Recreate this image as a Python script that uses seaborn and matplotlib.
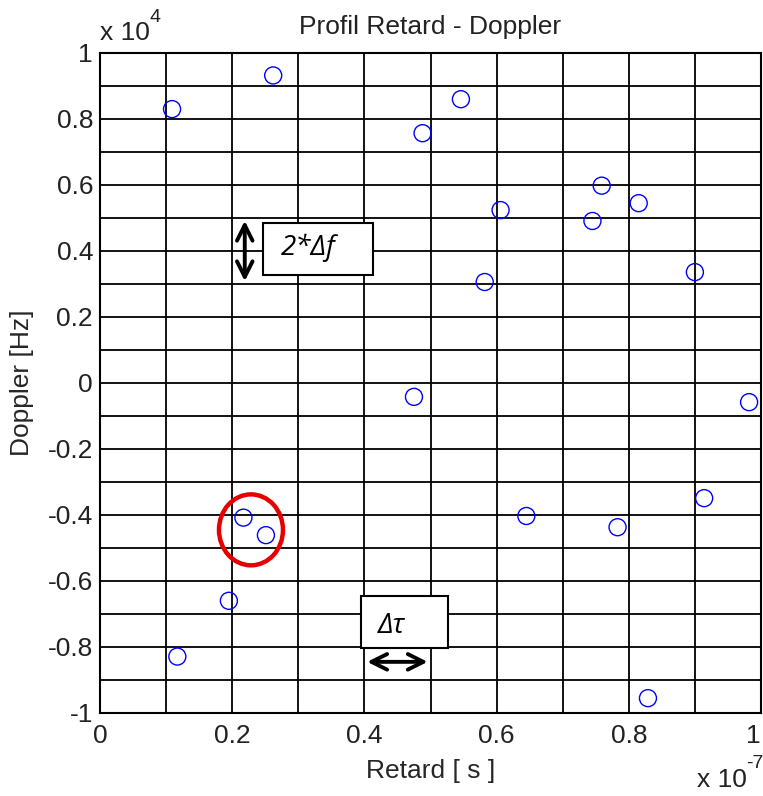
import numpy as np
import matplotlib
matplotlib.use("Agg")
import matplotlib.pyplot as plt
import seaborn as sns
from matplotlib.patches import Ellipse, Rectangle
from matplotlib.ticker import MultipleLocator

# targets: delay in units of 1e-7 s, doppler in units of 1e4 Hz
retard_e7 = [0.109, 0.262, 0.546, 0.488, 0.759, 0.815, 0.606, 0.745, 0.900, 0.582,
             0.475, 0.982, 0.914, 0.645, 0.783, 0.829, 0.217, 0.251, 0.195, 0.117]
doppler_e4 = [0.830, 0.932, 0.860, 0.757, 0.598, 0.545, 0.524, 0.491, 0.336, 0.306,
              -0.042, -0.058, -0.349, -0.403, -0.437, -0.955, -0.408, -0.461, -0.660, -0.829]

xtick_labels = ["0", "0.2", "0.4", "0.6", "0.8", "1"]
ytick_labels = ["-1", "-0.8", "-0.6", "-0.4", "-0.2", "0", "0.2", "0.4", "0.6", "0.8", "1"]

retard = np.array(retard_e7) * 1e-7
doppler = np.array(doppler_e4) * 1e4

sns.set_style("white")
plt.rcParams['font.family'] = ['Liberation Sans', 'DejaVu Sans']
plt.rcParams['axes.unicode_minus'] = False
plt.rcParams['text.color'] = '#222222'

fs = 19

fig = plt.figure(figsize=(7.63, 7.96), dpi=100)
ax = fig.add_axes([100 / 763, 83 / 796, 661 / 763, 660 / 796])

sns.scatterplot(x=retard, y=doppler, ax=ax, marker='o', s=150,
                facecolor='none', edgecolor='blue', linewidth=1.0, zorder=5)

ax.set_xlim(0, 1e-7)
ax.set_ylim(-1e4, 1e4)
ax.set_xticks(np.linspace(0, 1e-7, len(xtick_labels)), xtick_labels)
ax.set_yticks(np.linspace(-1e4, 1e4, len(ytick_labels)), ytick_labels)
ax.xaxis.set_minor_locator(MultipleLocator(0.1e-7))
ax.yaxis.set_minor_locator(MultipleLocator(0.1e4))
ax.grid(True, which='both', color='black', linewidth=1.3)
ax.set_axisbelow(True)
ax.tick_params(which='both', length=0, labelsize=fs, labelcolor='#222222')
ax.tick_params(axis='x', pad=8)
ax.tick_params(axis='y', pad=5)
for s in ax.spines.values():
    s.set_color('black')
    s.set_linewidth(1.5)

# keep the last x label inside the figure
ax.get_xticklabels()[-1].set_horizontalalignment('right')

ax.set_title("Profil Retard - Doppler", fontsize=fs, pad=14)
ax.set_xlabel("Retard [ s ]", fontsize=fs, labelpad=8)
ax.set_ylabel("Doppler [Hz]", fontsize=fs, labelpad=10)

# exponent labels, drawn as plain text like the original
fig.text(100 / 763, 1 - 33 / 796, "x 10", fontsize=fs, va='center', ha='left')
fig.text(150 / 763, 1 - 18 / 796, "4", fontsize=14, va='center', ha='left')
fig.text(697 / 763, 1 - 780 / 796, "x 10", fontsize=fs, va='center', ha='left')
fig.text(746 / 763, 1 - 764 / 796, "-7", fontsize=14, va='center', ha='left')

# red ellipse around the two close targets
ax.add_patch(Ellipse((0.2284e-7, -0.445e4), 0.0968e-7, 0.215e4,
                     fill=False, edgecolor='#e60000', linewidth=3.2, zorder=6))

annot_font = ['Open Sans', 'DejaVu Sans']

# 2*delta f resolution marker
ax.annotate("", xy=(0.219e-7, 0.5e4), xytext=(0.219e-7, 0.3e4),
            arrowprops=dict(arrowstyle='<->', lw=2.8, color='black', mutation_scale=28),
            zorder=7)
ax.add_patch(Rectangle((0.2466e-7, 0.327e4), 0.1664e-7, 0.158e4,
                       facecolor='white', edgecolor='black', linewidth=1.5, zorder=7))
ax.text(0.315e-7, 0.41e4, "2*Δf", fontsize=20, style='italic', family=annot_font,
        color='black', ha='center', va='center', zorder=8)

# delta tau resolution marker
ax.add_patch(Rectangle((0.395e-7, -0.803e4), 0.1315e-7, 0.158e4,
                       facecolor='white', edgecolor='black', linewidth=1.5, zorder=7))
ax.text(0.42e-7, -0.735e4, "Δτ", fontsize=20, style='italic', family=annot_font,
        color='black', ha='left', va='center', zorder=8)
ax.annotate("", xy=(0.4e-7, -0.845e4), xytext=(0.5e-7, -0.845e4),
            arrowprops=dict(arrowstyle='<->', lw=2.8, color='black', mutation_scale=28),
            zorder=7)

fig.savefig("out.png", dpi=100)
